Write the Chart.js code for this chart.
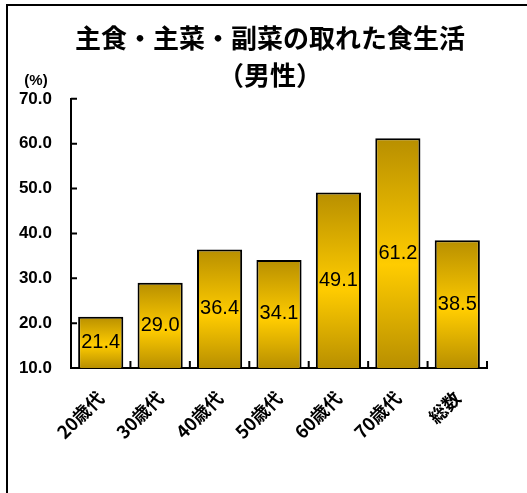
<!DOCTYPE html>
<html>
<head>
<meta charset="utf-8">
<script src="https://cdn.jsdelivr.net/npm/chart.js@4"></script>
<style>
  body { margin: 0; background: #fff; }
  #frame { position: absolute; left: 6px; top: 4px; width: 600px; height: 600px; border-left: 2px solid #000; border-top: 2px solid #000; }
  #wrap { position: absolute; left: 0; top: 0; width: 527px; height: 493px; }
</style>
</head>
<body>
<div id="frame"></div>
<div id="wrap"><canvas id="chart" width="527" height="493"></canvas></div>
<script>
// data
const categories = ['20歳代', '30歳代', '40歳代', '50歳代', '60歳代', '70歳代', '総数'];
const values = [21.4, 29.0, 36.4, 34.1, 49.1, 61.2, 38.5];
const yTicks = [10, 20, 30, 40, 50, 60, 70];
const titleLines = ['主食・主菜・副菜の取れた食生活', '（男性）'];
const unitLabel = '(%)';

const yMin = yTicks[0];
const yMax = yTicks[yTicks.length - 1];

function barGradient(c) {
  const chart = c.chart;
  const y = chart.scales.y;
  if (!y || c.raw === undefined) return '#ffcc00';
  const top = y.getPixelForValue(c.raw);
  const bottom = y.getPixelForValue(yMin);
  if (!isFinite(top) || !isFinite(bottom) || top === bottom) return '#ffcc00';
  const g = chart.ctx.createLinearGradient(0, top, 0, bottom);
  g.addColorStop(0, '#b88f00');
  g.addColorStop(0.55, '#ffcc00');
  g.addColorStop(1, '#b88f00');
  return g;
}

// title sits a little right of the canvas centre in the original
const shiftTitle = {
  id: 'shiftTitle',
  afterLayout(chart) {
    if (chart.titleBlock) chart.titleBlock.left += 40;
  }
};

// short tick marks pointing into the plot, plus the (%) label
const innerTicks = {
  id: 'innerTicks',
  afterDraw(chart) {
    const ctx = chart.ctx;
    const x = chart.scales.x;
    const y = chart.scales.y;
    const area = chart.chartArea;
    ctx.save();
    ctx.strokeStyle = '#000';
    ctx.lineWidth = 2;
    ctx.beginPath();
    yTicks.forEach(function (v) {
      const py = y.getPixelForValue(v);
      ctx.moveTo(area.left, py);
      ctx.lineTo(area.left + 6, py);
    });
    for (let i = 1; i <= categories.length; i++) {
      const px = x.getPixelForValue(i - 0.5);
      ctx.moveTo(px, area.bottom);
      ctx.lineTo(px, area.bottom - 7);
    }
    ctx.stroke();

    ctx.fillStyle = '#000';
    ctx.font = 'bold 15px "Liberation Sans"';
    ctx.textAlign = 'center';
    ctx.textBaseline = 'middle';
    ctx.fillText(unitLabel, 36, 81);
    ctx.restore();
  }
};

const valueLabels = {
  id: 'valueLabels',
  afterDatasetsDraw(chart) {
    const ctx = chart.ctx;
    const meta = chart.getDatasetMeta(0);
    const bottom = chart.chartArea.bottom;
    ctx.save();
    ctx.fillStyle = '#000';
    ctx.font = '20px "Liberation Sans"';
    ctx.textAlign = 'center';
    ctx.textBaseline = 'middle';
    meta.data.forEach(function (bar, i) {
      const base = Math.min(bar.base, bottom);
      ctx.fillText(values[i].toFixed(1), bar.x, (bar.y + base) / 2);
    });
    ctx.restore();
  }
};

const ctx = document.getElementById('chart').getContext('2d');
new Chart(ctx, {
  type: 'bar',
  data: {
    labels: categories,
    datasets: [{
      data: values,
      backgroundColor: barGradient,
      borderColor: '#000',
      borderWidth: 2,
      borderSkipped: false,
      barPercentage: 0.76,
      categoryPercentage: 1
    }]
  },
  options: {
    responsive: false,
    animation: false,
    layout: { padding: { left: 13, right: 40, top: 0, bottom: 0 } },
    plugins: {
      legend: { display: false },
      tooltip: { enabled: false },
      title: {
        display: true,
        text: titleLines,
        color: '#000',
        font: { family: '"Noto Sans CJK JP"', size: 26, weight: 'bold', lineHeight: 1.42 },
        padding: { top: 20, bottom: 5 }
      }
    },
    scales: {
      x: {
        grid: { display: false, drawTicks: false },
        border: { display: true, color: '#000', width: 2 },
        ticks: {
          color: '#000',
          minRotation: 45,
          maxRotation: 45,
          padding: 19,
          font: { family: '"Noto Sans CJK JP"', size: 18, weight: 'bold' }
        },
        afterFit(scale) { scale.height = 125; }
      },
      y: {
        min: yMin,
        max: yMax,
        grid: { display: false, drawTicks: false },
        border: { display: true, color: '#000', width: 2 },
        ticks: {
          stepSize: 10,
          color: '#000',
          padding: 19,
          font: { family: '"Liberation Sans"', size: 17, weight: 'bold' },
          callback: function (v) { return v.toFixed(1); }
        },
        afterFit(scale) { scale.width = 58; }
      }
    }
  },
  plugins: [shiftTitle, innerTicks, valueLabels]
});
</script>
</body>
</html>
